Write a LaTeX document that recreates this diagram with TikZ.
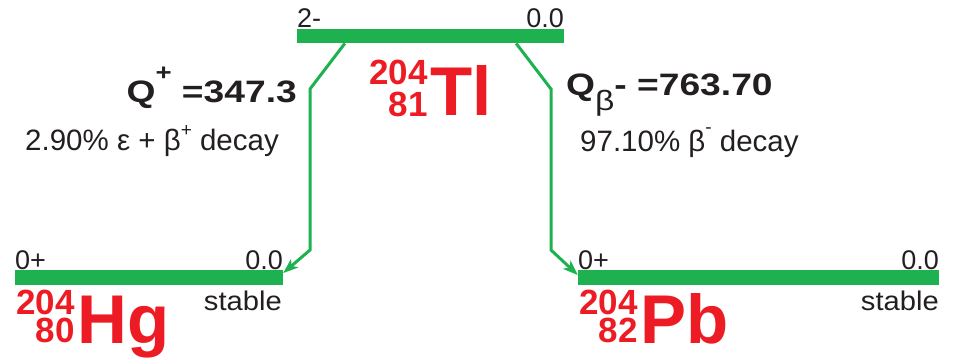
\documentclass[tikz,border=0pt]{standalone}
\usepackage{fontspec}
\setmainfont{Liberation Sans}
\newfontfamily\qfont{Liberation Sans}[FakeStretch=1.2]
\newfontfamily\stfont{Liberation Sans}[FakeStretch=1.08]
\usetikzlibrary{arrows.meta}
\definecolor{lvlgreen}{RGB}{29,177,79}
\definecolor{nucred}{RGB}{237,28,36}
\definecolor{txtc}{RGB}{35,31,32}
\begin{document}
\begin{tikzpicture}[x=1pt,y=-1pt,
  level/.style={fill=lvlgreen, draw=none, inner sep=0, minimum height=14.5pt},
  lbl/.style={inner sep=0, text=txtc, font=\fontsize{27}{27}\selectfont},
  stlbl/.style={inner sep=0, text=txtc, font=\stfont\fontsize{27}{27}\selectfont},
  qlbl/.style={inner sep=0, text=txtc, font=\qfont\fontsize{31}{31}\bfseries\selectfont},
  dlbl/.style={inner sep=0, text=txtc, font=\fontsize{29.5}{29.5}\selectfont},
  azlbl/.style={inner sep=0, text=nucred, align=right},
  sym/.style={inner sep=0, text=nucred, font=\fontsize{69}{69}\bfseries\selectfont},
  decay/.style={draw=lvlgreen, line width=3pt, line join=miter, -{Stealth[length=15pt,width=11pt,inset=4pt]}},
]
\useasboundingbox (0,0) rectangle (962,359);
% levels
\node[level, minimum width=267pt] (tlbar) at (430.5,36) {};
\node[level, minimum width=268pt] (hgbar) at (149,277.5) {};
\node[level, minimum width=361pt] (pbbar) at (758.5,277.5) {};
% level labels
\node[lbl, anchor=base west] (tlspin) at (297,27) {2-};
\node[lbl, anchor=base east] (tlen) at (564,27) {0.0};
\node[lbl, anchor=base west] (hgspin) at (15,269) {0+};
\node[lbl, anchor=base east] (hgen) at (283,269) {0.0};
\node[stlbl, anchor=base east] (hgst) at (282,310) {stable};
\node[lbl, anchor=base west] (pbspin) at (578,269) {0+};
\node[lbl, anchor=base east] (pben) at (939,269) {0.0};
\node[stlbl, anchor=base east] (pbst) at (939,310) {stable};
% nuclides
\node[azlbl, font=\fontsize{35}{32}\bfseries\selectfont, anchor=north east] (tlaz) at (428,60) {204\\81};
\node[sym, anchor=base west] (tls) at (430,115) {Tl};
\node[azlbl, font=\fontsize{35}{28}\bfseries\selectfont, anchor=north east] (hgaz) at (75,290) {204\\80};
\node[sym, anchor=base west] (hgs) at (77,343) {Hg};
\node[azlbl, font=\fontsize{35}{28}\bfseries\selectfont, anchor=north east] (pbaz) at (638,290) {204\\82};
\node[sym, anchor=base west] (pbs) at (640,343) {Pb};
% Q values
\node[qlbl, anchor=base east] (q1) at (297,102) {Q\raisebox{22pt}{\fontsize{23}{23}\selectfont +} =347.3};
\node[qlbl, anchor=base west] (q2) at (566,95) {Q\raisebox{-15pt}{\fontsize{28}{28}\mdseries\selectfont β}- =763.70};
\node[dlbl, anchor=base west] (d1) at (25,150) {2.90\% ε + β\raisebox{14pt}{\fontsize{19}{19}\selectfont +} decay};
\node[dlbl, anchor=base west] (d2) at (580,151) {97.10\% β\raisebox{18pt}{\fontsize{19}{19}\selectfont -} decay};
% decays
\draw[decay] ([xshift=48pt]tlbar.south west) -- (310,89) -- (310,250) -- ([yshift=-3pt]hgbar.north east);
\draw[decay] ([xshift=-48pt]tlbar.south east) -- (551,89) -- (551,250) -- ([yshift=-5pt]pbbar.north west);
\end{tikzpicture}
\end{document}
